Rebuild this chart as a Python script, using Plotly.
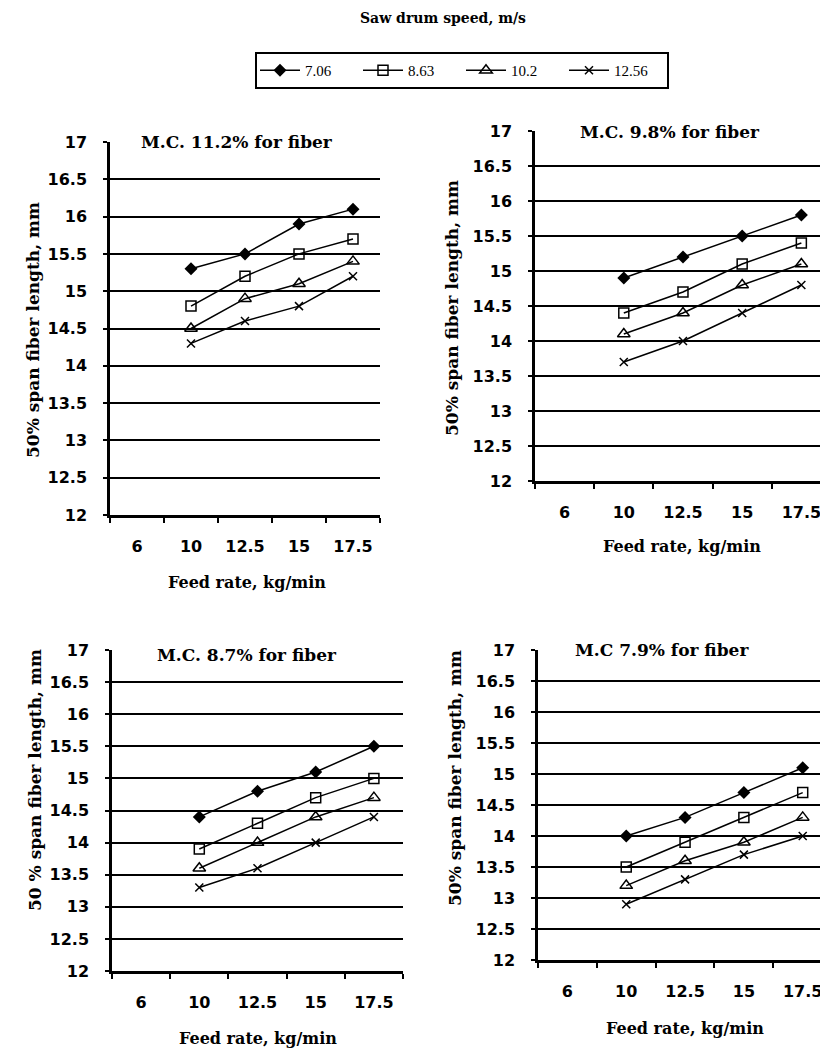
import plotly.graph_objects as go

# browser body has an 8px default margin, so the figure is drawn 8px in
OFF = 8
W, H = 828 - OFF, 1053 - OFF

categories = ["6", "10", "12.5", "15", "17.5"]
feed_rates = ["10", "12.5", "15", "17.5"]
speeds = ["7.06", "8.63", "10.2", "12.56"]
y_ticks = [12, 12.5, 13, 13.5, 14, 14.5, 15, 15.5, 16, 16.5, 17]
y_ticktext = ["12", "12.5", "13", "13.5", "14", "14.5", "15", "15.5", "16", "16.5", "17"]
grid_vals = [12.5, 13, 13.5, 14, 14.5, 15, 15.5, 16, 16.5]

panel_titles = ["M.C. 11.2% for fiber", "M.C. 9.8% for fiber",
                "M.C. 8.7% for fiber", "M.C 7.9% for fiber"]
y_titles = ["50% span fiber length, mm", "50% span fiber length, mm",
            "50 % span fiber length, mm", "50% span fiber length, mm"]
x_title = "Feed rate, kg/min"
legend_title = "Saw drum speed, m/s"

# panel 1: M.C. 11.2%
p1_706 = [15.3, 15.5, 15.9, 16.1]
p1_863 = [14.8, 15.2, 15.5, 15.7]
p1_102 = [14.5, 14.9, 15.1, 15.4]
p1_1256 = [14.3, 14.6, 14.8, 15.2]
# panel 2: M.C. 9.8%
p2_706 = [14.9, 15.2, 15.5, 15.8]
p2_863 = [14.4, 14.7, 15.1, 15.4]
p2_102 = [14.1, 14.4, 14.8, 15.1]
p2_1256 = [13.7, 14.0, 14.4, 14.8]
# panel 3: M.C. 8.7%
p3_706 = [14.4, 14.8, 15.1, 15.5]
p3_863 = [13.9, 14.3, 14.7, 15.0]
p3_102 = [13.6, 14.0, 14.4, 14.7]
p3_1256 = [13.3, 13.6, 14.0, 14.4]
# panel 4: M.C. 7.9%
p4_706 = [14.0, 14.3, 14.7, 15.1]
p4_863 = [13.5, 13.9, 14.3, 14.7]
p4_102 = [13.2, 13.6, 13.9, 14.3]
p4_1256 = [12.9, 13.3, 13.7, 14.0]

panels = [
    [p1_706, p1_863, p1_102, p1_1256],
    [p2_706, p2_863, p2_102, p2_1256],
    [p3_706, p3_863, p3_102, p3_1256],
    [p4_706, p4_863, p4_102, p4_1256],
]

markers = [
    dict(symbol="diamond", size=10, color="black"),
    dict(symbol="square-open", size=10, color="black", line=dict(width=1.5)),
    dict(symbol="triangle-up-open", size=11, color="black", line=dict(width=1.5)),
    dict(symbol="x-thin-open", size=8, color="black", line=dict(width=1.5)),
]

def px_x(v):
    return min(1.0, max(0.0, (v - OFF) / W))

def px_y(v):
    return min(1.0, max(0.0, 1 - (v - OFF) / H))

# panel geometry in screen pixels: (x0, x1, ytop(17), ybottom(12), xrange_end)
geom = [
    (110, 380, 142, 515, 4.5),
    (535, 828, 131, 481, 4.45),
    (112, 403, 650, 971, 4.5),
    (538, 828, 650, 960, 4.43),
]

tick_font = dict(family="DejaVu Sans", size=16, color="black", weight="bold")
title_font = dict(family="DejaVu Serif", size=17, color="black", weight="bold")
xlabel_font = dict(family="DejaVu Serif", size=16, color="black", weight="bold")
ylabel_font = dict(family="DejaVu Serif", size=17, color="black", weight="bold")

fig = go.Figure()
for i, series in enumerate(panels):
    xa = "x" if i == 0 else f"x{i+1}"
    ya = "y" if i == 0 else f"y{i+1}"
    for j, vals in enumerate(series):
        fig.add_trace(go.Scatter(
            x=feed_rates, y=vals, mode="lines+markers",
            name=speeds[j], legendgroup=speeds[j], showlegend=(i == 0),
            line=dict(color="black", width=1.5),
            marker=markers[j],
            xaxis=xa, yaxis=ya, cliponaxis=False,
        ))

layout = dict(
    width=W, height=H, margin=dict(l=0, r=0, t=0, b=0, autoexpand=False),
    paper_bgcolor="white", plot_bgcolor="white",
    showlegend=True,
    legend=dict(orientation="h", x=px_x(462), xanchor="center",
                y=px_y(52), yanchor="top",
                bordercolor="black", borderwidth=2,
                font=dict(family="Liberation Serif, Times New Roman", size=15, color="black"),
                entrywidth=48, itemwidth=40, tracegroupgap=0),
)

annotations = [dict(text=legend_title, x=px_x(443), y=px_y(18), xref="paper", yref="paper",
                    xanchor="center", yanchor="middle",
                    showarrow=False, font=xlabel_font | dict(size=14))]

title_pos = [(237, 142), (670, 132), (247, 655), (662, 650)]
xtitle_pos = [(247, 582), (682, 546), (258, 1038), (685, 1028)]
ytitle_pos = [(33, 330), (452, 308), (35, 780), (455, 778)]

for i, (x0, x1, yt, yb, xr) in enumerate(geom):
    sx = "" if i == 0 else str(i + 1)
    layout[f"xaxis{sx}"] = dict(
        domain=[px_x(x0), px_x(x1)], anchor=f"y{sx}",
        type="category", categoryorder="array", categoryarray=categories,
        range=[-0.5, xr], tickson="boundaries", ticks="outside", ticklen=5,
        tickwidth=2, tickcolor="black", showline=True, linecolor="black", linewidth=3,
        showgrid=False, zeroline=False, tickfont=tick_font, ticklabelstandoff=15,
        fixedrange=True,
    )
    layout[f"yaxis{sx}"] = dict(
        domain=[px_y(yb), px_y(yt)], anchor=f"x{sx}",
        range=[12, 17], tickvals=y_ticks, ticktext=y_ticktext,
        ticks="outside", ticklen=4, tickwidth=2, tickcolor="black",
        showline=True, linecolor="black", linewidth=2.5,
        showgrid=False, zeroline=False, tickfont=tick_font, ticklabelstandoff=13,
        minor=dict(tickvals=grid_vals, showgrid=True, gridcolor="black", gridwidth=2, ticks=""),
        fixedrange=True,
    )
    annotations.append(dict(text=panel_titles[i], x=px_x(title_pos[i][0]), y=px_y(title_pos[i][1]),
                            xref="paper", yref="paper", xanchor="center", yanchor="middle",
                            showarrow=False, font=title_font))
    annotations.append(dict(text=x_title, x=px_x(xtitle_pos[i][0]), y=px_y(xtitle_pos[i][1]),
                            xref="paper", yref="paper", xanchor="center", yanchor="middle",
                            showarrow=False, font=xlabel_font))
    annotations.append(dict(text=y_titles[i], x=px_x(ytitle_pos[i][0]), y=px_y(ytitle_pos[i][1]),
                            xref="paper", yref="paper", xanchor="center", yanchor="middle",
                            showarrow=False, textangle=-90, font=ylabel_font))

layout["annotations"] = annotations
fig.update_layout(**layout)
fig.write_html("out.html")
